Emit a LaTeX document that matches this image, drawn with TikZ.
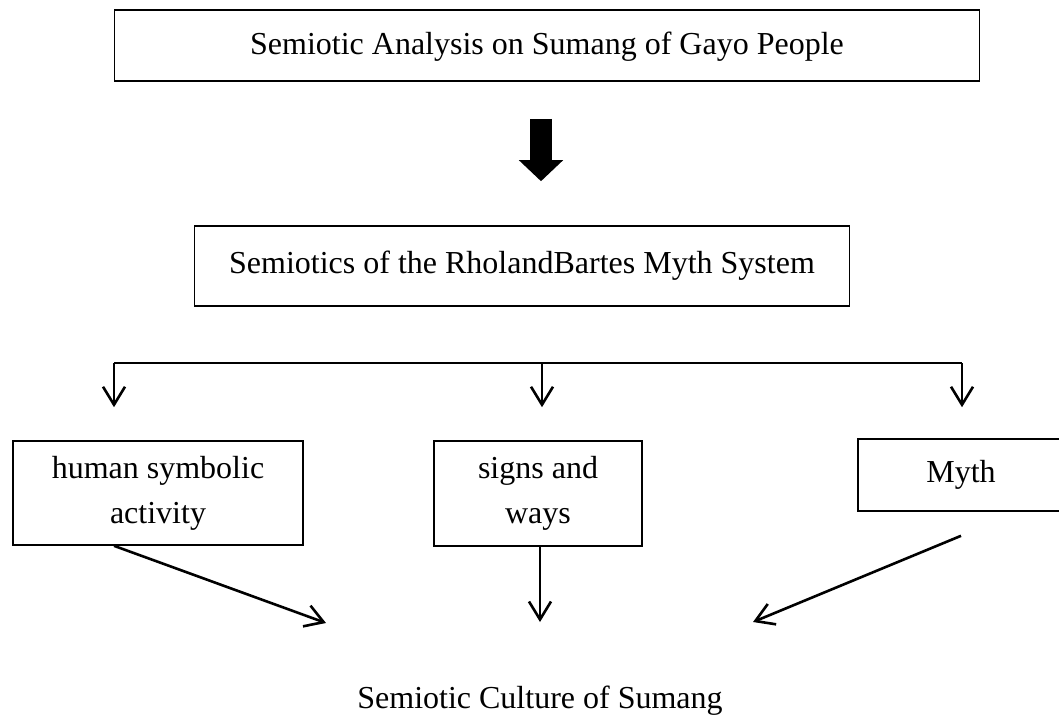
\documentclass[tikz,border=0pt]{standalone}
\usepackage{fontspec}
\setmainfont{Liberation Serif}
\usetikzlibrary{arrows.meta}

\begin{document}
\begin{tikzpicture}[
    x=1pt, y=-1pt,
    box/.style={draw, line width=1.6pt, align=center, inner sep=0pt, font=\fontsize{32}{45}\selectfont},
    arrow/.style={-{Straight Barb[length=18pt, width=22pt, line width=2.6pt]}, line width=2.6pt},
    bigarrow/.style={line width=22pt, -{Triangle[length=21pt, width=43pt]}}
]
    \clip (0,0) rectangle (1059,716);
    \node[box, minimum width=865pt, minimum height=71pt, text depth=4pt] (title) at (547,45.5) {Semiotic Analysis on Sumang of Gayo People};
    \node[box, minimum width=655pt, minimum height=80pt] (barthes) at (522,266) {Semiotics of the RholandBartes Myth System};
    \node[box, minimum width=290pt, minimum height=104pt] (human) at (158,493) {human symbolic\\activity};
    \node[box, minimum width=208pt, minimum height=105pt] (signs) at (538,493.5) {signs and\\ways};
    \node[box, minimum width=206pt, minimum height=72pt] (myth) at (961,475) {Myth};
    \node[font=\fontsize{32}{38}\selectfont, anchor=base] (culture) at (540,708) {Semiotic Culture of Sumang};

    \draw[bigarrow, shorten <=37pt, shorten >=44pt] (title.south -| 541,0) -- (barthes.north -| 541,0);

    % fork to the three aspects
    \coordinate (forkL) at (114,363);
    \coordinate (forkM) at (542,363);
    \coordinate (forkR) at (962,363);
    \draw[line width=2.6pt] (forkL) -- (forkR);
    \draw[arrow, shorten >=33pt] (forkL) -- (forkL |- human.north);
    \draw[arrow, shorten >=33pt] (forkM) -- (forkM |- signs.north);
    \draw[arrow, shorten >=31pt] (forkR) -- (forkR |- myth.north);

    % into the culture of Sumang
    \coordinate (cL) at (326,623);
    \coordinate (cM) at (540,622);
    \coordinate (cR) at (753,622);
    \draw[arrow] (human.south -| forkL) -- (cL);
    \draw[arrow] (signs.south -| cM) -- (cM);
    \draw[arrow] ([yshift=-24pt]myth.south) -- (cR);
\end{tikzpicture}
\end{document}
